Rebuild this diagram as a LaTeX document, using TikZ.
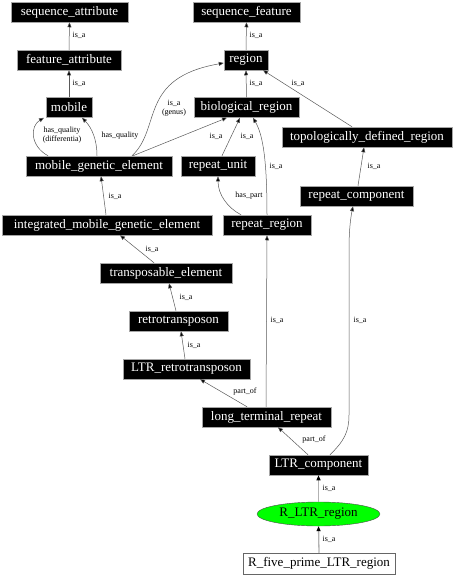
\documentclass[tikz,border=0pt]{standalone}
\usepackage{fontspec}
\setmainfont{Liberation Serif}
\usetikzlibrary{arrows.meta,calc,shapes.geometric}
\begin{document}
\begin{tikzpicture}[x=1pt,y=-1pt,
  term/.style={draw=gray!70,fill=black,text=white,font=\fontsize{13}{14}\selectfont,
    minimum height=20pt,inner sep=0pt,line width=0.5pt},
  plain/.style={draw=gray!80!black,fill=white,text=black,font=\fontsize{13}{14}\selectfont,
    minimum height=21pt,inner sep=0pt,line width=0.5pt},
  green/.style={ellipse,draw=black!70,fill=green,text=black,font=\fontsize{13}{14}\selectfont,
    minimum height=24pt,minimum width=123pt,inner sep=0pt,line width=0.4pt},
  edge/.style={draw=gray!70!black,line width=0.5pt,-{Triangle[length=5pt,width=4pt,fill=black]}},
  thick edge/.style={draw=gray!60,line width=1.3pt,-{Triangle[length=5pt,width=4pt,fill=black,color=black]}},
  lab/.style={font=\fontsize{8}{9}\selectfont,inner sep=0pt,align=center,text=black}]
\useasboundingbox (0,0) rectangle (454,576);

% nodes
\node[term,minimum width=117pt] (sa) at (69.5,12) {sequence\_attribute};
\node[term,minimum width=107pt] (sf) at (246.5,12) {sequence\_feature};
\node[term,minimum width=104pt] (fa) at (69,60) {feature\_attribute};
\node[term,minimum width=44pt] (region) at (246,60) {region};
\node[term,minimum width=46pt] (mobile) at (69,107.5) {mobile};
\node[term,minimum width=105pt] (bio) at (246.5,107.5) {biological\_region};
\node[term,minimum width=170pt] (topo) at (367,137) {topologically\_defined\_region};
\node[term,minimum width=146pt] (mge) at (99,166) {mobile\_genetic\_element};
\node[term,minimum width=74pt] (ru) at (218,166) {repeat\_unit};
\node[term,minimum width=113pt] (rc) at (356.5,196) {repeat\_component};
\node[term,minimum width=210pt] (imge) at (107,225) {integrated\_mobile\_genetic\_element};
\node[term,minimum width=88pt] (rr) at (267,225) {repeat\_region};
\node[term,minimum width=132pt] (te) at (166,273) {transposable\_element};
\node[term,minimum width=99pt] (retro) at (178.5,321) {retrotransposon};
\node[term,minimum width=127pt] (ltrr) at (186.5,369) {LTR\_retrotransposon};
\node[term,minimum width=129pt] (ltr) at (266.5,417) {long\_terminal\_repeat};
\node[term,minimum width=99pt] (ltrc) at (318.5,465) {LTR\_component};
\node[green] (rltr) at (318.5,514) {R\_LTR\_region};
\node[plain,minimum width=152pt] (r5) at (319,563.5) {R\_five\_prime\_LTR\_region};

% edges
\draw[edge] (fa.north) -- (sa.south) node[lab] at (79,35) {is\_a};
\draw[edge] (mobile.north) -- (fa.south) node[lab] at (79,83) {is\_a};
\draw[edge] (region.north) -- (sf.south) node[lab] at (256,35) {is\_a};
\draw[edge] (bio.north) -- (region.south) node[lab] at (256,83) {is\_a};
\draw[edge] ($(topo.north)+(-15,0)$) -- ($(region.south)+(17,0)$) node[lab] at (298,83) {is\_a};
\draw[edge] ($(mge.north)+(-51,0)$) .. controls (30,146) and (30,126) .. ($(mobile.south)+(-25,0)$)
  node[lab] at (62,135) {has\_quality\\(differentia)};
\draw[edge] ($(mge.north)+(-2,0)$) .. controls (97,140) and (92,128) .. ($(mobile.south)+(13,0)$)
  node[lab] at (120,136) {has\_quality};
\draw[edge] ($(mge.north)+(33,0)$) .. controls (162,128) and (138,78) .. ($(region.west)+(0,3)$)
  node[lab] at (174,108) {is\_a\\(genus)};
\draw[edge] ($(mge.north)+(34,0)$) -- ($(bio.south)+(-19.5,0)$) node[lab] at (216,136) {is\_a};
\draw[edge] ($(ru.north)+(4,0)$) -- ($(bio.south)+(-6.5,0)$) node[lab] at (247,136) {is\_a};
\draw[edge] (rr.north) .. controls (267,160) and (263,135) .. ($(bio.south)+(6.5,0)$) node[lab] at (276,166) {is\_a};
\draw[edge] ($(rr.north)+(-26,0)$) .. controls (228,208) and (218,195) .. (ru.south) node[lab] at (249,196) {has\_part};
\draw[edge] ($(rc.north)+(1.5,0)$) -- ($(topo.south)+(-3,0)$) node[lab] at (374,166) {is\_a};
\draw[edge] ($(imge.north)+(-1,0)$) -- ($(mge.south)+(2,0)$) node[lab] at (115,196) {is\_a};
\draw[edge] ($(te.north)+(-12,0)$) -- ($(imge.south)+(13,0)$) node[lab] at (152,249) {is\_a};
\draw[edge] ($(retro.north)+(-2.5,0)$) -- ($(te.south)+(3,0)$) node[lab] at (186,297) {is\_a};
\draw[edge] ($(ltrr.north)+(-1.5,0)$) -- ($(retro.south)+(2.5,0)$) node[lab] at (194,345) {is\_a};
\draw[edge] ($(ltr.north)+(-19.5,0)$) -- ($(ltrr.south)+(13.5,0)$) node[lab] at (245,392) {part\_of};
\draw[edge] ($(ltr.north)+(-0.5,0)$) -- (rr.south) node[lab] at (277,320) {is\_a};
\draw[edge] ($(ltrc.north)+(-10.5,0)$) -- ($(ltr.south)+(11.5,0)$) node[lab] at (314,440) {part\_of};
\draw[edge] ($(ltrc.north)+(11.5,0)$) .. controls (344,441) and (349,432) .. (349,415)
  -- (349,250) .. controls (349,228) and (351,216) .. ($(rc.south)+(-3.5,0)$)
  node[lab] at (360,320) {is\_a};
\draw[thick edge] (rltr.north) -- (ltrc.south) node[lab] at (329,488) {is\_a};
\draw[thick edge] (r5.north) -- (rltr.south) node[lab] at (329,539) {is\_a};
\end{tikzpicture}
\end{document}
